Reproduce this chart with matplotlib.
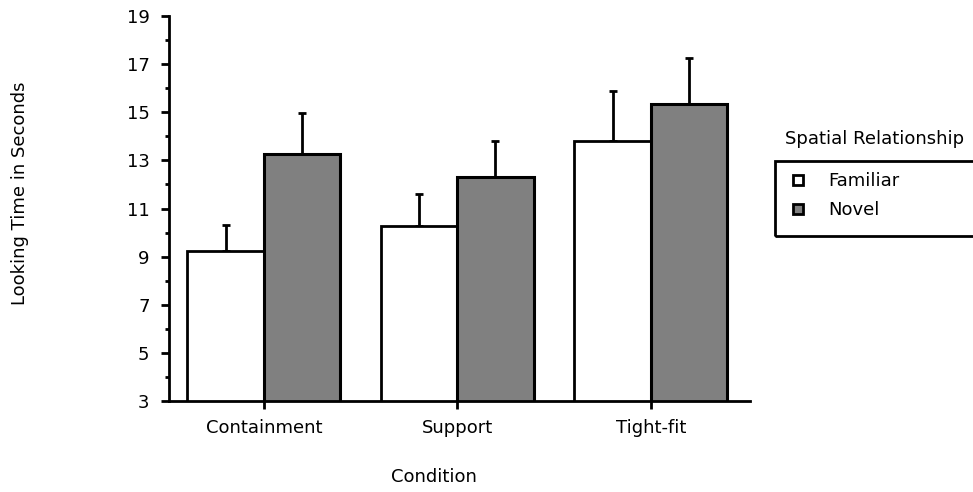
import numpy as np
import matplotlib.pyplot as plt
from matplotlib.lines import Line2D
from matplotlib.patches import Rectangle

# looking time means and upper error bars
conditions = ["Containment", "Support", "Tight-fit"]
familiar = [9.25, 10.27, 13.82]
novel = [13.28, 12.32, 15.36]
familiar_err = [1.08, 1.33, 2.08]
novel_err = [1.67, 1.50, 1.90]
yticks = [3, 5, 7, 9, 11, 13, 15, 17, 19]

plt.rcParams['font.family'] = ['DejaVu Sans']
fs = 13

fig = plt.figure(figsize=(9.73, 4.92), dpi=100)
ax = fig.add_axes([169/973, 91/492, 581/973, 385/492])

x = np.arange(len(conditions))
w = 0.395
ax.bar(x - w/2, familiar, w, bottom=0, color="white", edgecolor="black", linewidth=2, zorder=2)
ax.bar(x + w/2, novel, w, bottom=0, color="#808080", edgecolor="black", linewidth=2.2, zorder=2)
# upper error bars only
ax.errorbar(x - w/2, familiar, yerr=[np.zeros(3), familiar_err], fmt="none",
            ecolor="black", elinewidth=2, capsize=3, capthick=2, zorder=1)
ax.errorbar(x + w/2, novel, yerr=[np.zeros(3), novel_err], fmt="none",
            ecolor="black", elinewidth=2, capsize=3, capthick=2, zorder=1)

ax.set_ylim(3, 19)
ax.set_xlim(-0.49, 2.513)
ax.set_yticks(yticks)
ax.set_yticks(np.arange(4, 19, 2), minor=True)
ax.set_xticks(x)
ax.set_xticklabels(conditions)
ax.tick_params(axis="both", direction="out", width=2, length=6, labelsize=fs)
ax.tick_params(axis="y", which="minor", width=2, length=3)
ax.tick_params(axis="y", pad=8)
ax.tick_params(axis="x", pad=7)
for s in ["top", "right"]:
    ax.spines[s].set_visible(False)
for s in ["left", "bottom"]:
    ax.spines[s].set_linewidth(2)

fig.text(20/973, 1 - 193/492, "Looking Time in Seconds", rotation=90,
         ha="center", va="center", fontsize=fs)
fig.text(434/973, 1 - 477/492, "Condition", ha="center", va="center", fontsize=fs)

# legend: title sits above a box that runs off the right edge
fig.text(875/973, 1 - 139/492, "Spatial Relationship", ha="center", va="center", fontsize=fs)
fig.patches.append(Rectangle((775/973, 1 - 236/492), 0.3, 75/492, transform=fig.transFigure,
                             fill=False, edgecolor="black", linewidth=2, figure=fig))
handles = [Line2D([], [], marker="s", linestyle="none", markersize=7.5, markerfacecolor="white",
                  markeredgecolor="black", markeredgewidth=2),
           Line2D([], [], marker="s", linestyle="none", markersize=7.5, markerfacecolor="#808080",
                  markeredgecolor="black", markeredgewidth=2)]
fig.legend(handles, ["Familiar", "Novel"], loc="upper left",
           bbox_to_anchor=(789/973, 1 - 172/492), frameon=False, fontsize=fs,
           borderpad=0, borderaxespad=0, handlelength=1.0, handletextpad=1.17,
           labelspacing=0.62)

fig.savefig("out.png", dpi=100)
